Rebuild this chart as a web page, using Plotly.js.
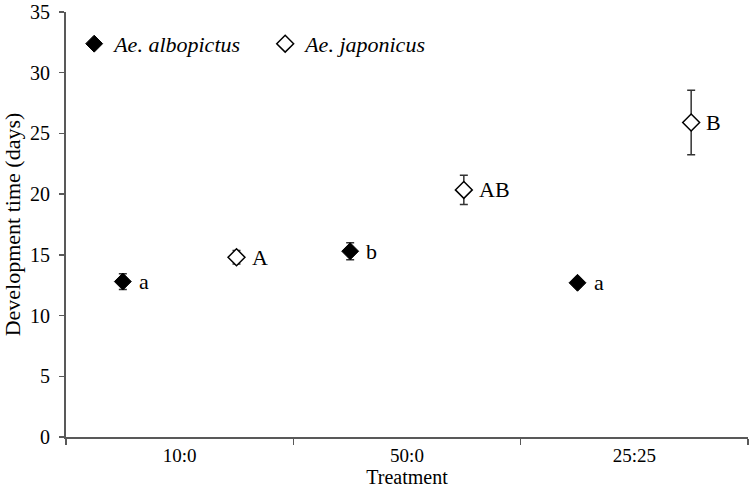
<!DOCTYPE html>
<html>
<head>
<meta charset="utf-8">
<script src="https://cdn.plot.ly/plotly-3.0.1.min.js"></script>
<style>html,body{margin:0;padding:0;background:#fff;}#chart{width:750px;height:488px;}</style>
</head>
<body>
<div id="chart"></div>
<script>
// Data
const categories = ["10:0", "50:0", "25:25"];
const seriesNames = ["Ae. albopictus", "Ae. japonicus"];
const albopictusMean = [12.8, 15.3, 12.7];
const albopictusErr  = [0.65, 0.7, 0.3];
const japonicusMean  = [14.8, 20.35, 25.9];
const japonicusErr   = [0.55, 1.2, 2.65];
const albopictusLetters = ["a", "b", "a"];
const japonicusLetters  = ["A", "AB", "B"];
const yTicks = [0, 5, 10, 15, 20, 25, 30, 35];

// dodge positions derived from category index
const idx = categories.map((c, i) => i);
const xAlbo = idx.map(i => i - 0.25);
const xJapo = idx.map(i => i + 0.25);
const boundaries = categories.map((c, i) => i - 0.5).concat([categories.length - 0.5]);

const serif = "'Liberation Serif', 'Times New Roman', serif";
const ebar = {type: "data", visible: true, color: "#333", thickness: 1.5, width: 4};

const traces = [
  {
    type: "scatter", mode: "markers", name: "<i>" + seriesNames[0] + "</i>",
    x: xAlbo, y: albopictusMean,
    error_y: Object.assign({array: albopictusErr}, ebar),
    marker: {symbol: "diamond", size: 13, color: "#000", line: {color: "#000", width: 1}}
  },
  {
    type: "scatter", mode: "markers", name: "<i>" + seriesNames[1] + "</i>",
    x: xJapo, y: japonicusMean,
    error_y: Object.assign({array: japonicusErr}, ebar),
    marker: {symbol: "diamond", size: 13, color: "#fff", line: {color: "#000", width: 1.5}}
  }
];

const annotations = [];
xAlbo.forEach((x, i) => annotations.push({x: x, y: albopictusMean[i], xref: "x", yref: "y",
  text: albopictusLetters[i], showarrow: false, xanchor: "left", xshift: 14,
  font: {family: serif, size: 22, color: "#000"}}));
xJapo.forEach((x, i) => annotations.push({x: x, y: japonicusMean[i], xref: "x", yref: "y",
  text: japonicusLetters[i], showarrow: false, xanchor: "left", xshift: 13,
  font: {family: serif, size: 22, color: "#000"}}));

const layout = {
  width: 750, height: 488,
  margin: {l: 66, r: 2, t: 11.5, b: 50.7},
  paper_bgcolor: "#fff", plot_bgcolor: "#fff",
  font: {family: serif, size: 20, color: "#000"},
  showlegend: true,
  legend: {orientation: "h", x: 0.012, xanchor: "left", y: 0.925, yanchor: "middle",
    font: {family: serif, size: 22, color: "#000"}, bgcolor: "rgba(0,0,0,0)",
    entrywidth: 146, entrywidthmode: "pixels"},
  xaxis: {
    range: [boundaries[0], boundaries[boundaries.length - 1]],
    tickvals: idx, ticktext: categories, ticks: "",
    showline: true, linecolor: "#595959", linewidth: 2,
    showgrid: false, zeroline: false, fixedrange: true,
    minor: {tickvals: boundaries, ticks: "outside", ticklen: 6, tickwidth: 1.5, tickcolor: "#595959", showgrid: false},
    tickfont: {family: serif, size: 19, color: "#000"},
    title: {text: "Treatment", font: {family: serif, size: 20, color: "#000"}, standoff: 5}
  },
  yaxis: {
    range: [0, 35], tickvals: yTicks, ticks: "outside", ticklen: 5, tickwidth: 1.5,
    tickcolor: "#595959", showline: true, linecolor: "#595959", linewidth: 2,
    showgrid: false, zeroline: false, fixedrange: true,
    ticklabeloverflow: "allow", ticklabelstandoff: 5,
    tickfont: {family: serif, size: 20, color: "#000"},
    title: {text: "Development time (days)", font: {family: serif, size: 22, color: "#000"}, standoff: 12}
  },
  annotations: annotations
};

Plotly.newPlot("chart", traces, layout, {displayModeBar: false, staticPlot: true});
</script>
</body>
</html>
